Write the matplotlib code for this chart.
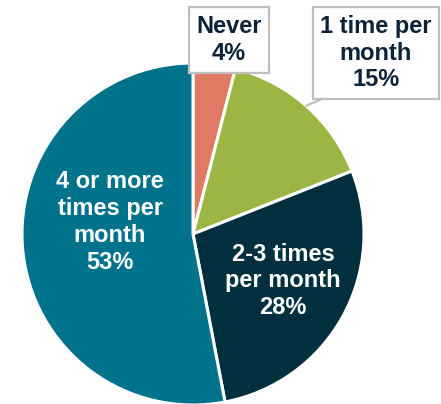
import numpy as np
import matplotlib.pyplot as plt

labels = ['Never', '1 time per\nmonth', '2-3 times\nper month', '4 or more\ntimes per\nmonth']
values = [4, 15, 28, 53]
colors = ['#E07A64', '#9CB644', '#022F3E', '#00738C']

plt.rcParams['font.family'] = ['Liberation Sans', 'DejaVu Sans']

W, H = 441, 404
cx, cy, R = 193, 234, 171  # pie centre and radius in pixels


def px(x, y):
    # pixel position (from top-left) to data coords of the axes
    return (x - cx) / R, (cy - y) / R


fig = plt.figure(figsize=(W / 100, H / 100), dpi=100)
ax = fig.add_axes([0, 0, 1, 1])

wedges, _ = ax.pie(values, colors=colors, startangle=90, counterclock=False,
                   radius=1.0, wedgeprops=dict(edgecolor='white', linewidth=2.2))
ax.set_xlim(-cx / R, (W - cx) / R)
ax.set_ylim(-(H - cy) / R, cy / R)
ax.set_aspect('equal')
ax.axis('off')

dark = '#0B2239'
fs = 17
ls = 1.22
box = dict(boxstyle='square,pad=0.32', facecolor='white', edgecolor='#BFBFBF', linewidth=1.6)

# Never
ax.text(*px(229, 40), f'{labels[0]}\n{values[0]}%', ha='center', va='center',
        fontsize=fs, fontweight='bold', color=dark, bbox=box, linespacing=ls)

# 1 time per month with leader line
w = wedges[1]
mid = np.deg2rad((w.theta1 + w.theta2) / 2)
ax.annotate(f'{labels[1]}\n{values[1]}%', xy=(np.cos(mid), np.sin(mid)),
            xytext=px(376, 53), ha='center', va='center',
            fontsize=fs, fontweight='bold', color=dark, bbox=box, linespacing=ls,
            arrowprops=dict(arrowstyle='-', color='#BFBFBF', lw=1.6,
                            relpos=(0.18, 0.0), shrinkA=0, shrinkB=0))

# inside labels
ax.text(*px(283, 281), f'{labels[2]}\n{values[2]}%', ha='center', va='center',
        fontsize=fs, fontweight='bold', color='white', linespacing=ls)
ax.text(*px(110, 222), f'{labels[3]}\n{values[3]}%', ha='center', va='center',
        fontsize=fs, fontweight='bold', color='white', linespacing=ls)

fig.savefig('out.png', dpi=100)
